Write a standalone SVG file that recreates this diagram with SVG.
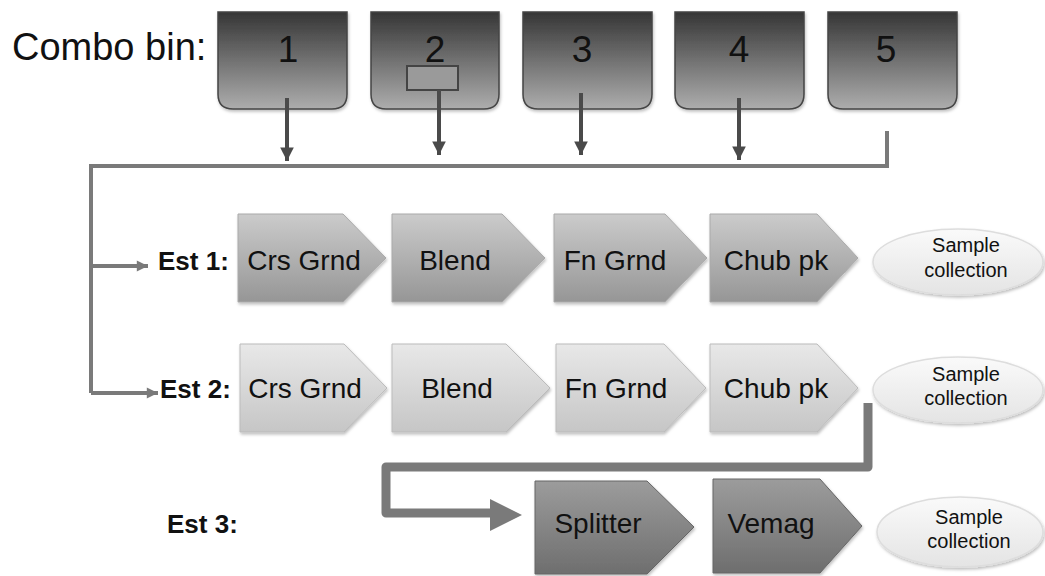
<svg xmlns="http://www.w3.org/2000/svg" width="1045" height="576" viewBox="0 0 1045 576">
<defs>
<linearGradient id="gBin" x1="0" y1="0" x2="0" y2="1"><stop offset="0" stop-color="#363636"/><stop offset="1" stop-color="#adadad"/></linearGradient>
<linearGradient id="gR1" x1="0" y1="0" x2="0" y2="1"><stop offset="0" stop-color="#cbcbcb"/><stop offset="1" stop-color="#969696"/></linearGradient>
<linearGradient id="gR2" x1="0" y1="0" x2="0" y2="1"><stop offset="0" stop-color="#e8e8e8"/><stop offset="1" stop-color="#c6c6c6"/></linearGradient>
<linearGradient id="gR3" x1="0" y1="0" x2="0" y2="1"><stop offset="0" stop-color="#9c9c9c"/><stop offset="1" stop-color="#6e6e6e"/></linearGradient>
<linearGradient id="gEl" x1="0" y1="0" x2="0" y2="1"><stop offset="0" stop-color="#fafafa"/><stop offset="1" stop-color="#e4e4e4"/></linearGradient>
<filter id="sh" x="-10%" y="-10%" width="125%" height="130%"><feDropShadow dx="1" dy="2" stdDeviation="1.5" flood-color="#000" flood-opacity="0.25"/></filter>
<marker id="ahD" viewBox="0 0 10 10" refX="10" refY="5" markerWidth="3.4" markerHeight="3.4" orient="auto" markerUnits="strokeWidth"><path d="M0,0 L10,5 L0,10 Z" fill="#4a4a4a"/></marker>
<marker id="ahL" viewBox="0 0 10 10" refX="10" refY="5" markerWidth="3.6" markerHeight="2.8" orient="auto" markerUnits="strokeWidth"><path d="M0,0 L10,5 L0,10 Z" fill="#7a7a7a"/></marker>
</defs>
<style>
text{font-family:"Liberation Sans",Arial,sans-serif;fill:#111}
.bin{fill:url(#gBin);stroke:#444;stroke-width:1.5;filter:url(#sh)}
.num{font-size:37px;text-anchor:middle}
.r1{fill:url(#gR1);stroke:#aaa;stroke-width:1;filter:url(#sh)}
.r2{fill:url(#gR2);stroke:#bbb;stroke-width:1;filter:url(#sh)}
.r3{fill:url(#gR3);stroke:#666;stroke-width:1;filter:url(#sh)}
.lbl{font-size:28px;text-anchor:middle}
.est{font-size:26px;font-weight:bold}
.el{fill:url(#gEl);stroke:#ddd;stroke-width:1.5;filter:url(#sh)}
.sc{font-size:20px;text-anchor:middle}
.thin{fill:none;stroke:#7a7a7a;stroke-width:4}
.bar{fill:none;stroke:#4a4a4a;stroke-width:4}
</style>
<text x="12" y="60" style="font-size:38px">Combo bin:</text>
<g id="bin1"><path class="bin" d="M218,12 H347 V94 Q347,109 332,109 H233 Q218,109 218,94 Z"/><text class="num" x="288" y="62">1</text></g>
<g id="bin2"><path class="bin" d="M371,12 H499 V94 Q499,109 484,109 H386 Q371,109 371,94 Z"/><text class="num" x="435" y="62">2</text><rect x="407" y="66" width="51" height="24" fill="#9a9a9a" stroke="#444" stroke-width="2"/></g>
<g id="bin3"><path class="bin" d="M523,12 H652 V94 Q652,109 637,109 H538 Q523,109 523,94 Z"/><text class="num" x="582" y="62">3</text></g>
<g id="bin4"><path class="bin" d="M675,12 H804 V94 Q804,109 789,109 H690 Q675,109 675,94 Z"/><text class="num" x="739" y="62">4</text></g>
<g id="bin5"><path class="bin" d="M828,12 H957 V94 Q957,109 942,109 H843 Q828,109 828,94 Z"/><text class="num" x="886" y="62">5</text></g>
<g id="connectors">
<line class="bar" x1="287" y1="98" x2="287" y2="161" marker-end="url(#ahD)"/>
<line class="bar" x1="439" y1="90" x2="439" y2="155" marker-end="url(#ahD)"/>
<line class="bar" x1="581" y1="93" x2="581" y2="155" marker-end="url(#ahD)"/>
<line class="bar" x1="739" y1="98" x2="739" y2="160" marker-end="url(#ahD)"/>
<path class="thin" d="M887,131 V166 H91 V393"/>
<line class="thin" x1="91" y1="266" x2="148" y2="266" marker-end="url(#ahL)"/>
<line class="thin" x1="91" y1="393" x2="158" y2="393" marker-end="url(#ahL)"/>
<path d="M868,403 V467 H386 V513 H492" fill="none" stroke="#7a7a7a" stroke-width="9" stroke-linejoin="round"/>
<path d="M490,499 L522,515 L490,531 Z" fill="#7a7a7a"/>
</g>
<text class="est" x="158" y="270">Est 1:</text>
<text class="est" x="160" y="398">Est 2:</text>
<text class="est" x="167" y="533">Est 3:</text>
<g id="e1-crs"><path class="r1" d="M238,214 H343 L386,258 L343,302 H238 Z"/><text class="lbl" x="304" y="270">Crs Grnd</text></g>
<g id="e1-blend"><path class="r1" d="M392,214 H502 L545,258 L502,302 H392 Z"/><text class="lbl" x="455" y="270">Blend</text></g>
<g id="e1-fn"><path class="r1" d="M554,214 H665 L707,258 L665,302 H554 Z"/><text class="lbl" x="615" y="270">Fn Grnd</text></g>
<g id="e1-chub"><path class="r1" d="M710,214 H817 L858,258 L817,302 H710 Z"/><text class="lbl" x="776" y="270">Chub pk</text></g>
<g id="e1-sample"><ellipse class="el" cx="958" cy="262" rx="85" ry="33"/><text class="sc" x="966" y="252">Sample</text><text class="sc" x="966" y="277">collection</text></g>
<g id="e2-crs"><path class="r2" d="M240,344 H344 L387,388 L344,432 H240 Z"/><text class="lbl" x="305" y="398">Crs Grnd</text></g>
<g id="e2-blend"><path class="r2" d="M392,344 H506 L550,388 L506,432 H392 Z"/><text class="lbl" x="457" y="398">Blend</text></g>
<g id="e2-fn"><path class="r2" d="M556,344 H664 L706,388 L664,432 H556 Z"/><text class="lbl" x="616" y="398">Fn Grnd</text></g>
<g id="e2-chub"><path class="r2" d="M710,344 H817 L858,388 L817,432 H710 Z"/><text class="lbl" x="776" y="398">Chub pk</text></g>
<g id="e2-sample"><ellipse class="el" cx="958" cy="390" rx="85" ry="33"/><text class="sc" x="966" y="381">Sample</text><text class="sc" x="966" y="405">collection</text></g>
<g id="e3-splitter"><path class="r3" d="M535,481 H647 L694,527 L647,574 H535 Z"/><text class="lbl" x="598" y="533">Splitter</text></g>
<g id="e3-vemag"><path class="r3" d="M713,479 H820 L862,526 L820,573 H713 Z"/><text class="lbl" x="771" y="533">Vemag</text></g>
<g id="e3-sample"><ellipse class="el" cx="960" cy="532" rx="83" ry="35"/><text class="sc" x="969" y="524">Sample</text><text class="sc" x="969" y="548">collection</text></g>
</svg>
